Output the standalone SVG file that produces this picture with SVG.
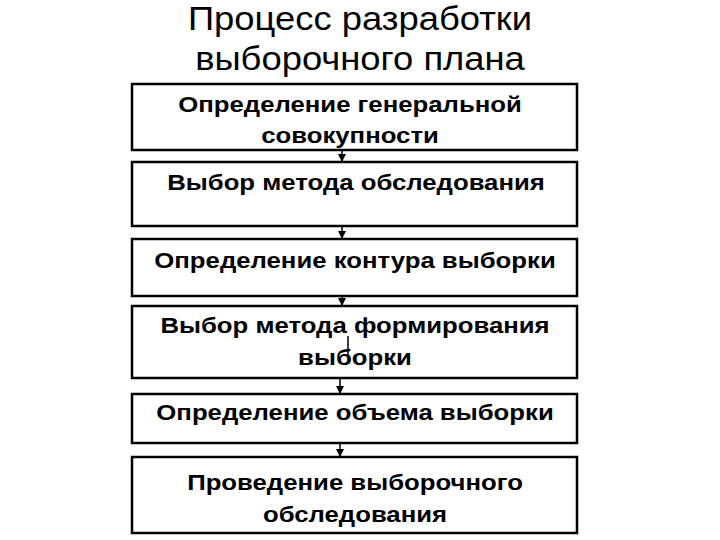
<svg xmlns="http://www.w3.org/2000/svg" width="720" height="540" viewBox="0 0 720 540">
<defs>
<style>
.box{fill:#fff;stroke:#000;stroke-width:2.5}
.t{font-family:"Liberation Sans",Arial,sans-serif;font-weight:bold;font-size:22px;text-anchor:middle;fill:#000}
.title{font-family:"Liberation Sans",Arial,sans-serif;font-size:34px;text-anchor:middle;fill:#000}
.c{stroke:#000;stroke-width:1.5;fill:none}
</style>
<marker id="ah" markerWidth="8" markerHeight="8" refX="7" refY="4" orient="auto" markerUnits="userSpaceOnUse">
<path d="M0,0 L8,4 L0,8 z" fill="#000"/>
</marker>
</defs>
<rect width="720" height="540" fill="#fff"/>
<g transform="translate(360 0) scale(1.07 1)">
<text class="title" x="0" y="30">Процесс разработки</text>
<text class="title" x="0" y="70">выборочного плана</text>
</g>
<g id="connectors">
<line class="c" x1="342" y1="150" x2="342" y2="161" marker-end="url(#ah)"/>
<line class="c" x1="342" y1="226" x2="342" y2="238" marker-end="url(#ah)"/>
<line class="c" x1="342" y1="296" x2="342" y2="305" marker-end="url(#ah)"/>
<line class="c" x1="340" y1="378" x2="340" y2="393" marker-end="url(#ah)"/>
<line class="c" x1="340" y1="443" x2="340" y2="456" marker-end="url(#ah)"/>
</g>
<g id="n1"><rect class="box" x="132" y="84" width="445" height="66"/>
<g transform="translate(350 0) scale(1.17 1)">
<text class="t" x="0" y="112">Определение генеральной</text>
<text class="t" x="0" y="143">совокупности</text></g></g>
<g id="n2"><rect class="box" x="132" y="162" width="445" height="64"/>
<g transform="translate(356 0) scale(1.17 1)">
<text class="t" x="0" y="190">Выбор метода обследования</text></g></g>
<g id="n3"><rect class="box" x="132" y="239" width="445" height="57"/>
<g transform="translate(355 0) scale(1.17 1)">
<text class="t" x="0" y="268">Определение контура выборки</text></g></g>
<g id="n4"><rect class="box" x="132" y="306" width="445" height="72"/>
<line class="c" x1="348" y1="336" x2="348" y2="355"/>
<g transform="translate(355 0) scale(1.17 1)">
<text class="t" x="0" y="333">Выбор метода формирования</text>
<text class="t" x="0" y="365">выборки</text></g></g>
<g id="n5"><rect class="box" x="132" y="394" width="445" height="49"/>
<g transform="translate(355 0) scale(1.17 1)">
<text class="t" x="0" y="420">Определение объема выборки</text></g></g>
<g id="n6"><rect class="box" x="132" y="457" width="445" height="76"/>
<g transform="translate(355 0) scale(1.17 1)">
<text class="t" x="0" y="490">Проведение выборочного</text>
<text class="t" x="0" y="522">обследования</text></g></g>
</svg>
